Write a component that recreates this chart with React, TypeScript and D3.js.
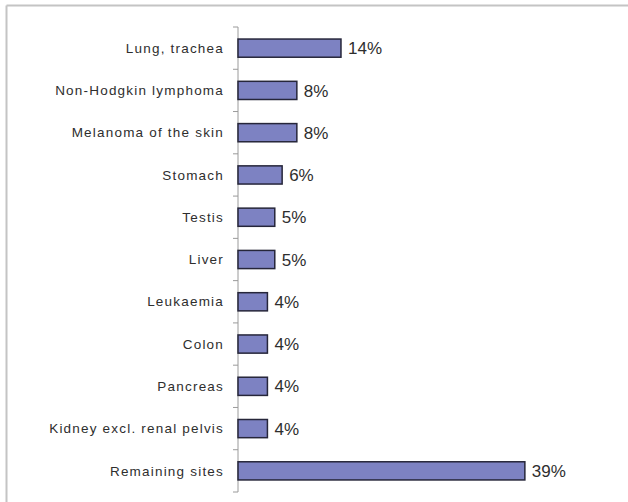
import * as d3 from 'd3';

const categories = [
  'Lung, trachea',
  'Non-Hodgkin lymphoma',
  'Melanoma of the skin',
  'Stomach',
  'Testis',
  'Liver',
  'Leukaemia',
  'Colon',
  'Pancreas',
  'Kidney excl. renal pelvis',
  'Remaining sites',
];
const values = [14, 8, 8, 6, 5, 5, 4, 4, 4, 4, 39];

export default function App() {
  const width = 628;
  const height = 502;
  const axisX = 238;
  const top = 27;
  const bottom = 492;

  const y = d3
    .scaleBand<string>()
    .domain(categories)
    .range([top, bottom])
    .paddingInner(0.57)
    .paddingOuter(0.285);

  const x = d3.scaleLinear().domain([0, 45]).range([axisX, axisX + 331]);

  const step = y.step();
  const boundaries = d3.range(categories.length + 1).map((i) => top + i * step);

  return (
    <svg
      width={width}
      height={height}
      style={{ position: 'absolute', left: 0, top: 0, background: '#fff' }}
      fontFamily="'Liberation Sans', Arial, sans-serif"
    >
      {/* frame: only top and left edges visible */}
      <line x1={6.5} y1={5.5} x2={width} y2={5.5} stroke="#c4c4c4" strokeWidth={2} />
      <line x1={6.5} y1={5.5} x2={6.5} y2={height} stroke="#c4c4c4" strokeWidth={2} />

      {/* axis */}
      <line x1={axisX} y1={top} x2={axisX} y2={bottom} stroke="#9a9a9a" strokeWidth={1} />
      {boundaries.map((b, i) => (
        <line key={i} x1={axisX - 5} y1={b} x2={axisX} y2={b} stroke="#9a9a9a" strokeWidth={1} />
      ))}

      {categories.map((c, i) => {
        const yy = y(c) ?? 0;
        const bw = y.bandwidth();
        return (
          <g key={c}>
            <rect
              x={x(0)}
              y={yy}
              width={x(values[i]) - x(0)}
              height={bw}
              fill="#7d82c2"
              stroke="#26263a"
              strokeWidth={1.5}
            />
            <text
              x={224}
              y={yy + bw / 2}
              dy="0.35em"
              textAnchor="end"
              fontSize={13.5}
              letterSpacing={1.2}
              fill="#2e2e2e"
            >
              {c}
            </text>
            <text
              x={x(values[i]) + 7}
              y={yy + bw / 2}
              dy="0.36em"
              fontSize={17}
              fill="#2e2e2e"
            >
              {values[i]}%
            </text>
          </g>
        );
      })}
    </svg>
  );
}
